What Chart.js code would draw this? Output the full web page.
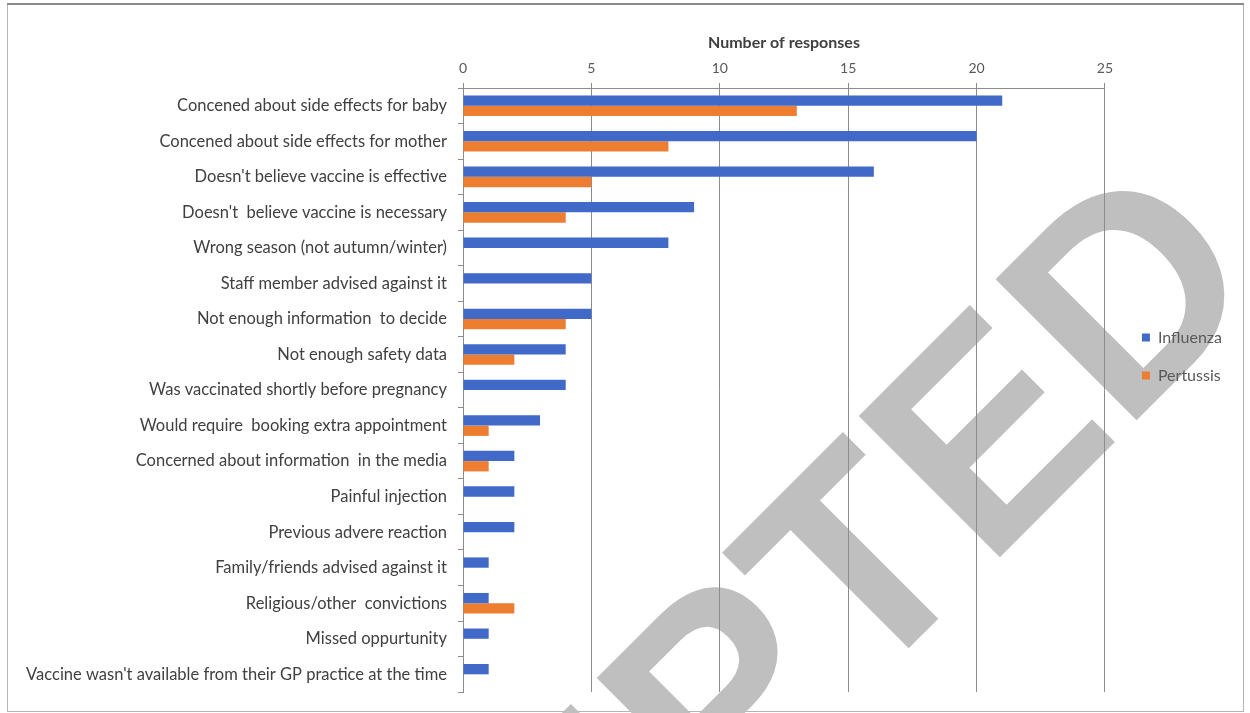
<!DOCTYPE html>
<html>
<head>
<meta charset="utf-8">
<script src="https://cdn.jsdelivr.net/npm/chart.js"></script>
<style>
  html, body { margin: 0; padding: 0; background: #fff; }
  #wrap { position: relative; width: 1250px; height: 713px; }
</style>
</head>
<body>
<div id="wrap"><canvas id="reasonsChart" width="1250" height="713"></canvas></div>
<script>
// Reasons for declining vaccination in pregnancy
const reasons = [
    "Concened about side effects for baby",
    "Concened about side effects for mother",
    "Doesn't believe vaccine is effective",
    "Doesn't  believe vaccine is necessary",
    "Wrong season (not autumn/winter)",
    "Staff member advised against it",
    "Not enough information  to decide",
    "Not enough safety data",
    "Was vaccinated shortly before pregnancy",
    "Would require  booking extra appointment",
    "Concerned about information  in the media",
    "Painful injection",
    "Previous advere reaction",
    "Family/friends advised against it",
    "Religious/other  convictions",
    "Missed oppurtunity",
    "Vaccine wasn't available from their GP practice at the time"
];
const influenza = [21, 20, 16, 9, 8, 5, 5, 4, 4, 3, 2, 2, 2, 1, 1, 1, 1];
const pertussis = [13, 8, 5, 4, 0, 0, 4, 2, 0, 1, 1, 0, 0, 0, 2, 0, 0];
const xTicks = [0, 5, 10, 15, 20, 25];

const axisGrey = '#8c8c8c';
const textGrey = '#404040';

// frame + faint watermark behind the plot
const backdrop = {
    id: 'backdrop',
    beforeDraw(chart) {
        const ctx = chart.ctx;
        ctx.save();
        ctx.strokeStyle = '#b4b4b4';
        ctx.lineWidth = 1;
        ctx.strokeRect(7.5, 4.5, 1236, 707);
        ctx.strokeStyle = '#8a8a8a';
        ctx.lineWidth = 2;
        ctx.beginPath();
        ctx.moveTo(7, 4);
        ctx.lineTo(1244, 4);
        ctx.stroke();

        ctx.translate(1271, 286);
        ctx.rotate(-Math.PI / 4);
        ctx.fillStyle = '#bfbfbf';
        ctx.font = 'bold 290px "Liberation Sans"';
        ctx.textAlign = 'right';
        ctx.textBaseline = 'alphabetic';
        ctx.fillText('ACCEPTED', 0, 0);
        ctx.restore();
    }
};

// nudge the legend to where the original sits
const legendNudge = {
    id: 'legendNudge',
    afterLayout(chart) {
        const lg = chart.legend;
        if (!lg) return;
        lg.left += 15; lg.right += 15;
        lg.top += 10; lg.bottom += 10;
    }
};

const ctx = document.getElementById('reasonsChart').getContext('2d');
new Chart(ctx, {
    type: 'bar',
    data: {
        labels: reasons,
        datasets: [{
            label: 'Influenza',
            data: influenza,
            backgroundColor: '#4169C8',
            borderWidth: 0,
            categoryPercentage: 0.58,
            barPercentage: 1
        }, {
            label: 'Pertussis',
            data: pertussis,
            backgroundColor: '#ED7D31',
            borderWidth: 0,
            categoryPercentage: 0.58,
            barPercentage: 1
        }]
    },
    options: {
        indexAxis: 'y',
        responsive: false,
        animation: false,
        devicePixelRatio: 1,
        layout: { padding: { top: 0, left: 0, right: 33, bottom: 20 } },
        plugins: {
            legend: {
                position: 'right',
                labels: {
                    boxWidth: 8,
                    boxHeight: 8,
                    padding: 22,
                    color: '#595959',
                    font: { family: 'Lato', size: 16 }
                }
            },
            tooltip: { enabled: false }
        },
        scales: {
            x: {
                position: 'top',
                min: 0,
                max: 25,
                afterBuildTicks: (s) => { s.ticks = xTicks.map(v => ({ value: v })); },
                afterFit: (s) => { s.height = 88; },
                ticks: { color: '#595959', padding: 6, font: { family: 'Lato', size: 14 } },
                grid: { color: axisGrey, tickLength: 5, tickColor: axisGrey },
                border: { color: axisGrey },
                title: {
                    display: true,
                    text: 'Number of responses',
                    color: textGrey,
                    padding: { top: 33, bottom: 0 },
                    font: { family: 'Lato', size: 16, weight: 'bold' }
                }
            },
            y: {
                afterFit: (s) => { s.width = 463; },
                ticks: { color: textGrey, padding: 11, autoSkip: false, font: { family: 'Lato', size: 16.5 } },
                grid: { drawOnChartArea: false, offset: true, tickLength: 5, tickColor: axisGrey },
                border: { color: axisGrey }
            }
        }
    },
    plugins: [backdrop, legendNudge]
});
</script>
</body>
</html>
